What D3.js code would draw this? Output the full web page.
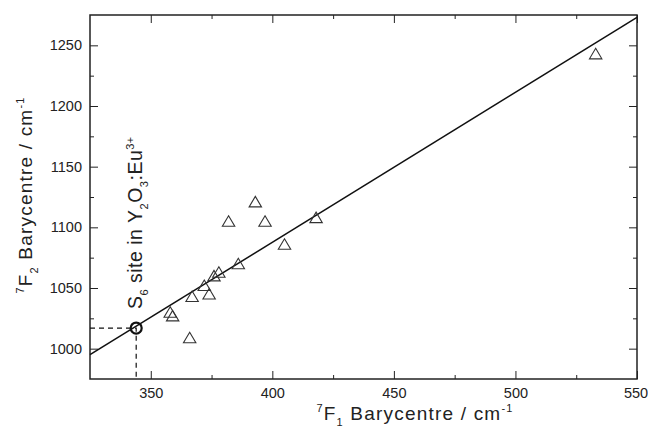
<!DOCTYPE html>
<html lang="en">
<head>
	<title>7F2 vs 7F1 barycentre</title>
	<script src="https://d3js.org/d3.v7.min.js" charset="utf-8"></script>
	<style>
		body { margin: 0; background: #fff; }
		text { font-family: "Liberation Sans", Arial, sans-serif; fill: #222; }
	</style>
</head>
<body>
	<script>
    // data
    var f1 = [533, 393, 382, 397, 418, 405, 386, 378, 376, 367, 372, 374, 358, 359, 366];
    var f2 = [1243, 1121, 1105, 1105, 1108, 1086, 1070, 1063, 1060, 1043, 1052, 1045, 1030, 1027, 1009];

    var fitX = [325, 550],
        fitY = [995, 1273];

    var siteX = 344, siteY = 1017;

    var xMajor = [350, 400, 450, 500, 550],
        xMinor = [375, 425, 475, 525],
        yMajor = [1000, 1050, 1100, 1150, 1200, 1250],
        yMinor = [1025, 1075, 1125, 1175, 1225];

    var width = 648,
        height = 438,
        margin = {top: 15, right: 11, bottom: 59, left: 90};

    var x = d3.scaleLinear().domain([325, 550]).range([margin.left, width - margin.right]);
    var y = d3.scaleLinear().domain([975, 1275]).range([height - margin.bottom, margin.top]);

    var svg = d3.select("body").append("svg")
        .attr("width", width)
        .attr("height", height);

    var x0 = x.range()[0], x1 = x.range()[1],
        y0 = y.range()[0], y1 = y.range()[1];

    // axes, ticks pointing inwards on all four sides
    function styleAxis(g) {
      g.select(".domain").remove();
      g.selectAll("line").attr("stroke", "#222");
      g.selectAll("text").attr("font-size", 14.5).attr("fill", "#222")
        .attr("font-family", "Liberation Sans, Arial, sans-serif");
    }

    svg.append("g").attr("transform", "translate(0," + y0 + ")")
      .call(d3.axisBottom(x).tickValues(xMajor).tickSize(-8).tickPadding(9).tickFormat(d3.format("d")))
      .call(styleAxis)
      .selectAll("text").attr("dx", function(d) { return d === 550 ? -1.5 : 0; });
    svg.append("g").attr("transform", "translate(0," + y0 + ")")
      .call(d3.axisBottom(x).tickValues(xMinor).tickSize(-4).tickFormat(""))
      .call(styleAxis);
    svg.append("g").attr("transform", "translate(0," + y1 + ")")
      .call(d3.axisTop(x).tickValues(xMajor).tickSize(-8).tickFormat(""))
      .call(styleAxis);
    svg.append("g").attr("transform", "translate(0," + y1 + ")")
      .call(d3.axisTop(x).tickValues(xMinor).tickSize(-4).tickFormat(""))
      .call(styleAxis);

    svg.append("g").attr("transform", "translate(" + x0 + ",0)")
      .call(d3.axisLeft(y).tickValues(yMajor).tickSize(-8).tickPadding(8).tickFormat(d3.format("d")))
      .call(styleAxis);
    svg.append("g").attr("transform", "translate(" + x0 + ",0)")
      .call(d3.axisLeft(y).tickValues(yMinor).tickSize(-4).tickFormat(""))
      .call(styleAxis);
    svg.append("g").attr("transform", "translate(" + x1 + ",0)")
      .call(d3.axisRight(y).tickValues(yMajor).tickSize(-8).tickFormat(""))
      .call(styleAxis);
    svg.append("g").attr("transform", "translate(" + x1 + ",0)")
      .call(d3.axisRight(y).tickValues(yMinor).tickSize(-4).tickFormat(""))
      .call(styleAxis);

    svg.append("rect")
      .attr("x", x0).attr("y", y1)
      .attr("width", x1 - x0).attr("height", y0 - y1)
      .attr("fill", "none").attr("stroke", "#222").attr("stroke-width", 1.5);

    // fit line
    svg.append("line")
      .attr("x1", x(fitX[0])).attr("y1", y(fitY[0]))
      .attr("x2", x(fitX[1])).attr("y2", y(fitY[1]))
      .attr("stroke", "#111").attr("stroke-width", 1.5);

    // dashed guides to the S6 site
    svg.append("path")
      .attr("d", "M" + x0 + "," + y(siteY) + "H" + x(siteX) + "V" + y0)
      .attr("fill", "none").attr("stroke", "#111").attr("stroke-width", 1.2)
      .attr("stroke-dasharray", "5,4");

    svg.append("circle")
      .attr("cx", x(siteX)).attr("cy", y(siteY)).attr("r", 5.5)
      .attr("fill", "none").attr("stroke", "#111").attr("stroke-width", 2.2);

    // triangles
    var tri = "M0,-5.5L6.2,5L-6.2,5Z";
    svg.append("g").selectAll("path")
      .data(f1)
      .enter().append("path")
      .attr("d", tri)
      .attr("transform", function(d, i) { return "translate(" + x(d) + "," + y(f2[i]) + ")"; })
      .attr("fill", "none").attr("stroke", "#333").attr("stroke-width", 1.1);

    // annotation
    var ann = svg.append("text")
      .attr("transform", "translate(" + (x(siteX) + 6) + "," + (y(siteY) - 19) + ") rotate(-90)")
      .attr("font-size", 19.5).attr("letter-spacing", 0.5);
    ann.append("tspan").text("S");
    ann.append("tspan").attr("font-size", 11).attr("dy", 6).text("6");
    ann.append("tspan").attr("dy", -6).text(" site in Y");
    ann.append("tspan").attr("font-size", 11).attr("dy", 6).text("2");
    ann.append("tspan").attr("dy", -6).text("O");
    ann.append("tspan").attr("font-size", 11).attr("dy", 6).text("3");
    ann.append("tspan").attr("dy", -6).text(":Eu");
    ann.append("tspan").attr("font-size", 11).attr("dy", -8).text("3+");

    // axis titles
    var xt = svg.append("text")
      .attr("x", 415).attr("y", 420)
      .attr("text-anchor", "middle").attr("font-size", 19).attr("letter-spacing", 1.2);
    xt.append("tspan").attr("font-size", 11).attr("dy", -8).text("7");
    xt.append("tspan").attr("dy", 8).text("F");
    xt.append("tspan").attr("font-size", 11).attr("dy", 6).text("1");
    xt.append("tspan").attr("dy", -6).text(" Barycentre / cm");
    xt.append("tspan").attr("font-size", 11).attr("dy", -8).text("-1");

    var yt = svg.append("text")
      .attr("transform", "translate(32,195) rotate(-90)")
      .attr("text-anchor", "middle").attr("font-size", 19).attr("letter-spacing", 1.2);
    yt.append("tspan").attr("font-size", 11).attr("dy", -8).text("7");
    yt.append("tspan").attr("dy", 8).text("F");
    yt.append("tspan").attr("font-size", 11).attr("dy", 6).text("2");
    yt.append("tspan").attr("dy", -6).text(" Barycentre / cm");
    yt.append("tspan").attr("font-size", 11).attr("dy", -8).text("-1");
	</script>
</body>
</html>
